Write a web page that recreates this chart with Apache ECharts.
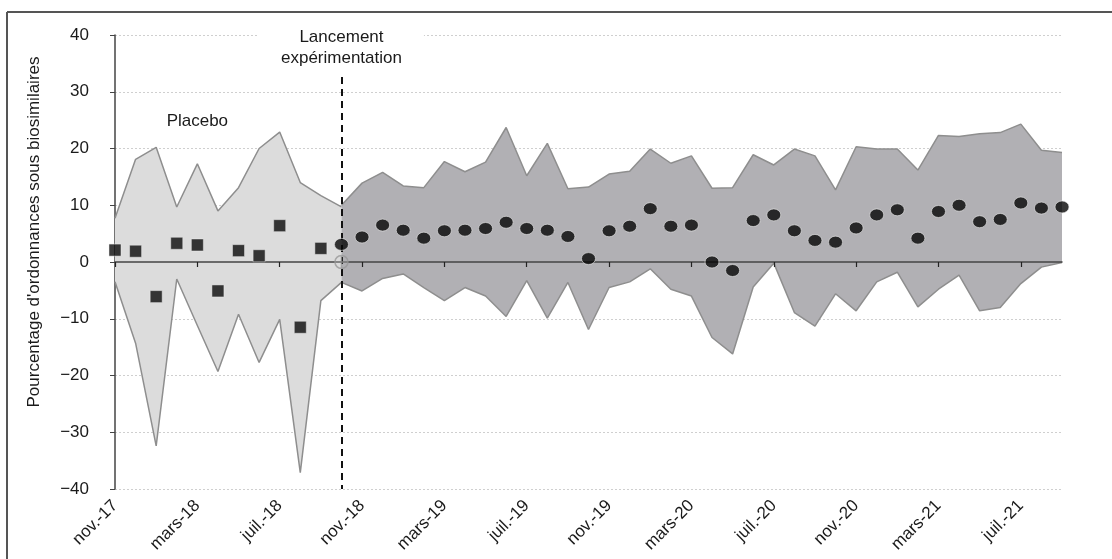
<!DOCTYPE html>
<html>
<head>
<meta charset="utf-8">
<script src="https://cdn.jsdelivr.net/npm/echarts@6/dist/echarts.min.js"></script>
<style>
  html, body { margin: 0; padding: 0; background: #fff; }
  #chart { width: 1112px; height: 559px; }
</style>
</head>
<body>
<div id="chart"></div>
<script>
// Monthly categories, nov. 2017 to sept. 2021
const months = [
  'nov.-17', 'déc.-17', 'janv.-18', 'févr.-18', 'mars-18', 'avr.-18', 'mai-18', 'juin-18',
  'juil.-18', 'août-18', 'sept.-18', 'oct.-18', 'nov.-18', 'déc.-18', 'janv.-19', 'févr.-19',
  'mars-19', 'avr.-19', 'mai-19', 'juin-19', 'juil.-19', 'août-19', 'sept.-19', 'oct.-19',
  'nov.-19', 'déc.-19', 'janv.-20', 'févr.-20', 'mars-20', 'avr.-20', 'mai-20', 'juin-20',
  'juil.-20', 'août-20', 'sept.-20', 'oct.-20', 'nov.-20', 'déc.-20', 'janv.-21', 'févr.-21',
  'mars-21', 'avr.-21', 'mai-21', 'juin-21', 'juil.-21', 'août-21', 'sept.-21'
];

// Placebo period (nov.-17 to oct.-18): band bounds and monthly estimates
const placeboLow  = [-3.5, -14.3, -32.4, -3.0, -11.2, -19.3, -9.2, -17.7, -10.1, -37.1, -6.8, -3.6];
const placeboHigh = [7.7, 18.1, 20.2, 9.7, 17.3, 9.0, 13.1, 20.0, 22.9, 14.0, 11.7, 9.7];
const placeboEst  = [2.1, 1.9, -6.1, 3.3, 3.0, -5.1, 2.0, 1.1, 6.4, -11.5, 2.4];

// Experimentation period (oct.-18 to sept.-21): band bounds and monthly estimates
const experLow = [
  -3.6, -5.1, -2.9, -2.1, -4.5, -6.8, -4.5, -6.0, -9.6, -3.3, -9.9, -3.6,
  -11.9, -4.5, -3.5, -1.2, -4.8, -6.0, -13.3, -16.2, -4.4, -0.2, -8.9, -11.3,
  -5.6, -8.6, -3.5, -1.8, -7.9, -4.8, -2.3, -8.6, -8.0, -3.8, -0.9, -0.1
];
const experHigh = [
  10.0, 13.9, 15.8, 13.4, 13.1, 17.7, 15.9, 17.6, 23.7, 15.2, 20.9, 12.9,
  13.2, 15.5, 16.0, 19.9, 17.4, 18.7, 13.0, 13.1, 18.9, 17.1, 19.9, 18.7,
  12.7, 20.3, 19.9, 19.9, 16.2, 22.3, 22.1, 22.6, 22.8, 24.3, 19.7, 19.3
];
const experEst = [
  3.1, 4.4, 6.5, 5.6, 4.2, 5.5, 5.6, 5.9, 7.0, 5.9, 5.6, 4.5,
  0.6, 5.5, 6.3, 9.4, 6.3, 6.5, 0.0, -1.5, 7.3, 8.3, 5.5, 3.8,
  3.5, 6.0, 8.3, 9.2, 4.2, 8.9, 10.0, 7.1, 7.5, 10.4, 9.5, 9.7
];

const launchIndex = 11;         // oct.-18, start of the experimentation
const yTicks = [-40, -30, -20, -10, 0, 10, 20, 30, 40];

const n = months.length;
function place(values, start) {
  const out = new Array(n).fill(null);
  values.forEach((v, i) => { out[start + i] = v; });
  return out;
}
function band(low, high, start) {
  const out = new Array(n).fill(null);
  low.forEach((v, i) => { out[start + i] = +(high[i] - v).toFixed(2); });
  return out;
}

const FONT = '"Liberation Sans", Arial, sans-serif';
const edgeLine = { color: '#8e8e8e', width: 1.5 };

const chart = echarts.init(document.getElementById('chart'), null, { renderer: 'canvas' });

chart.setOption({
  animation: false,
  backgroundColor: '#ffffff',
  textStyle: { fontFamily: FONT },
  grid: { left: 115, right: 50, top: 35, bottom: 70, containLabel: false },
  graphic: [
    { type: 'line', shape: { x1: 7, y1: 12, x2: 1112, y2: 12 }, style: { stroke: '#555', lineWidth: 2 } },
    { type: 'line', shape: { x1: 7, y1: 12, x2: 7, y2: 559 }, style: { stroke: '#555', lineWidth: 2 } }
  ],
  xAxis: [
    {
      type: 'category', data: months, boundaryGap: false, position: 'bottom',
      axisLine: { show: false, onZero: false }, axisTick: { show: false },
      axisLabel: { interval: 3, rotate: 45, fontSize: 17, color: '#1a1a1a', margin: 14, fontFamily: FONT },
      splitLine: { show: false }
    },
    {
      type: 'category', data: months, boundaryGap: false, position: 'top', z: 10,
      axisLine: { show: true, onZero: true, lineStyle: { color: '#444', width: 1.5 } },
      axisTick: { show: true, inside: true, length: 5, interval: 3, lineStyle: { color: '#222', width: 1.2 } },
      axisLabel: { show: false },
      splitLine: { show: false }
    }
  ],
  yAxis: {
    type: 'value', min: -40, max: 40, interval: 10,
    name: "Pourcentage d'ordonnances sous biosimilaires",
    nameLocation: 'middle', nameGap: 72, nameRotate: 90,
    nameTextStyle: { fontSize: 17, color: '#1a1a1a', fontFamily: FONT, padding: [0, 0, 0, 60] },
    axisLine: { show: true, lineStyle: { color: '#444', width: 1.5 } },
    axisTick: { show: true, length: 5, lineStyle: { color: '#444' } },
    axisLabel: {
      fontSize: 17, color: '#1a1a1a', margin: 26, fontFamily: FONT,
      formatter: v => (yTicks.includes(v) ? (v < 0 ? '\u2212' + Math.abs(v) : String(v)) : '')
    },
    splitLine: { show: true, lineStyle: { color: '#cfcfcf', type: [2, 2], width: 1 } }
  },
  series: [
    // Placebo band
    {
      type: 'line', name: 'placeboLow', stack: 'placebo', stackStrategy: 'all',
      data: place(placeboLow, 0), symbol: 'none', lineStyle: edgeLine, z: 2
    },
    {
      type: 'line', name: 'placeboBand', stack: 'placebo', stackStrategy: 'all',
      data: band(placeboLow, placeboHigh, 0), symbol: 'none', lineStyle: edgeLine,
      areaStyle: { color: '#dcdcdc', opacity: 1 }, z: 2
    },
    // Experimentation band
    {
      type: 'line', name: 'experLow', stack: 'exper', stackStrategy: 'all',
      data: place(experLow, launchIndex), symbol: 'none', lineStyle: edgeLine, z: 3
    },
    {
      type: 'line', name: 'experBand', stack: 'exper', stackStrategy: 'all',
      data: band(experLow, experHigh, launchIndex), symbol: 'none', lineStyle: edgeLine,
      areaStyle: { color: '#b1b0b4', opacity: 1 }, z: 3
    },
    // Placebo monthly estimates
    {
      type: 'scatter', name: 'placeboEst', data: place(placeboEst, 0),
      symbol: 'rect', symbolSize: 12, z: 20,
      itemStyle: { color: '#0a0a0a', borderColor: '#eeeeee', borderWidth: 0.6 },
      markPoint: {
        symbol: 'circle', symbolSize: 0,
        label: { show: true, formatter: 'Placebo', fontSize: 17, color: '#1a1a1a', fontFamily: FONT },
        data: [{ coord: [4.3, 24.8] }]
      }
    },
    // Experimentation monthly estimates
    {
      type: 'scatter', name: 'experEst', data: place(experEst, launchIndex),
      symbol: 'circle', symbolSize: [14, 12], z: 20,
      itemStyle: { color: '#050505', borderColor: '#e4e4e4', borderWidth: 0.8 },
      markLine: {
        silent: true, symbol: ['none', 'none'], z: 15,
        lineStyle: { color: '#111', width: 2, type: [7, 5] },
        label: {
          show: true, position: 'start', formatter: 'Lancement\nexpérimentation',
          fontSize: 17, lineHeight: 21, color: '#1a1a1a', fontFamily: FONT,
          backgroundColor: '#ffffff', padding: [2, 22, 2, 22], distance: 6
        },
        data: [[{ coord: [launchIndex, 32.6] }, { coord: [launchIndex, -40] }]]
      }
    },
    // Launch marker on the zero line
    {
      type: 'scatter', name: 'launch', data: [[launchIndex, 0]], z: 21,
      symbol: 'path://M0,10A10,10 0 1,1 20,10A10,10 0 1,1 0,10ZM10,0L10,20M0,10L20,10',
      symbolSize: 13,
      itemStyle: { color: 'none', borderColor: '#999', borderWidth: 1.5 }
    }
  ]
});
</script>
</body>
</html>
